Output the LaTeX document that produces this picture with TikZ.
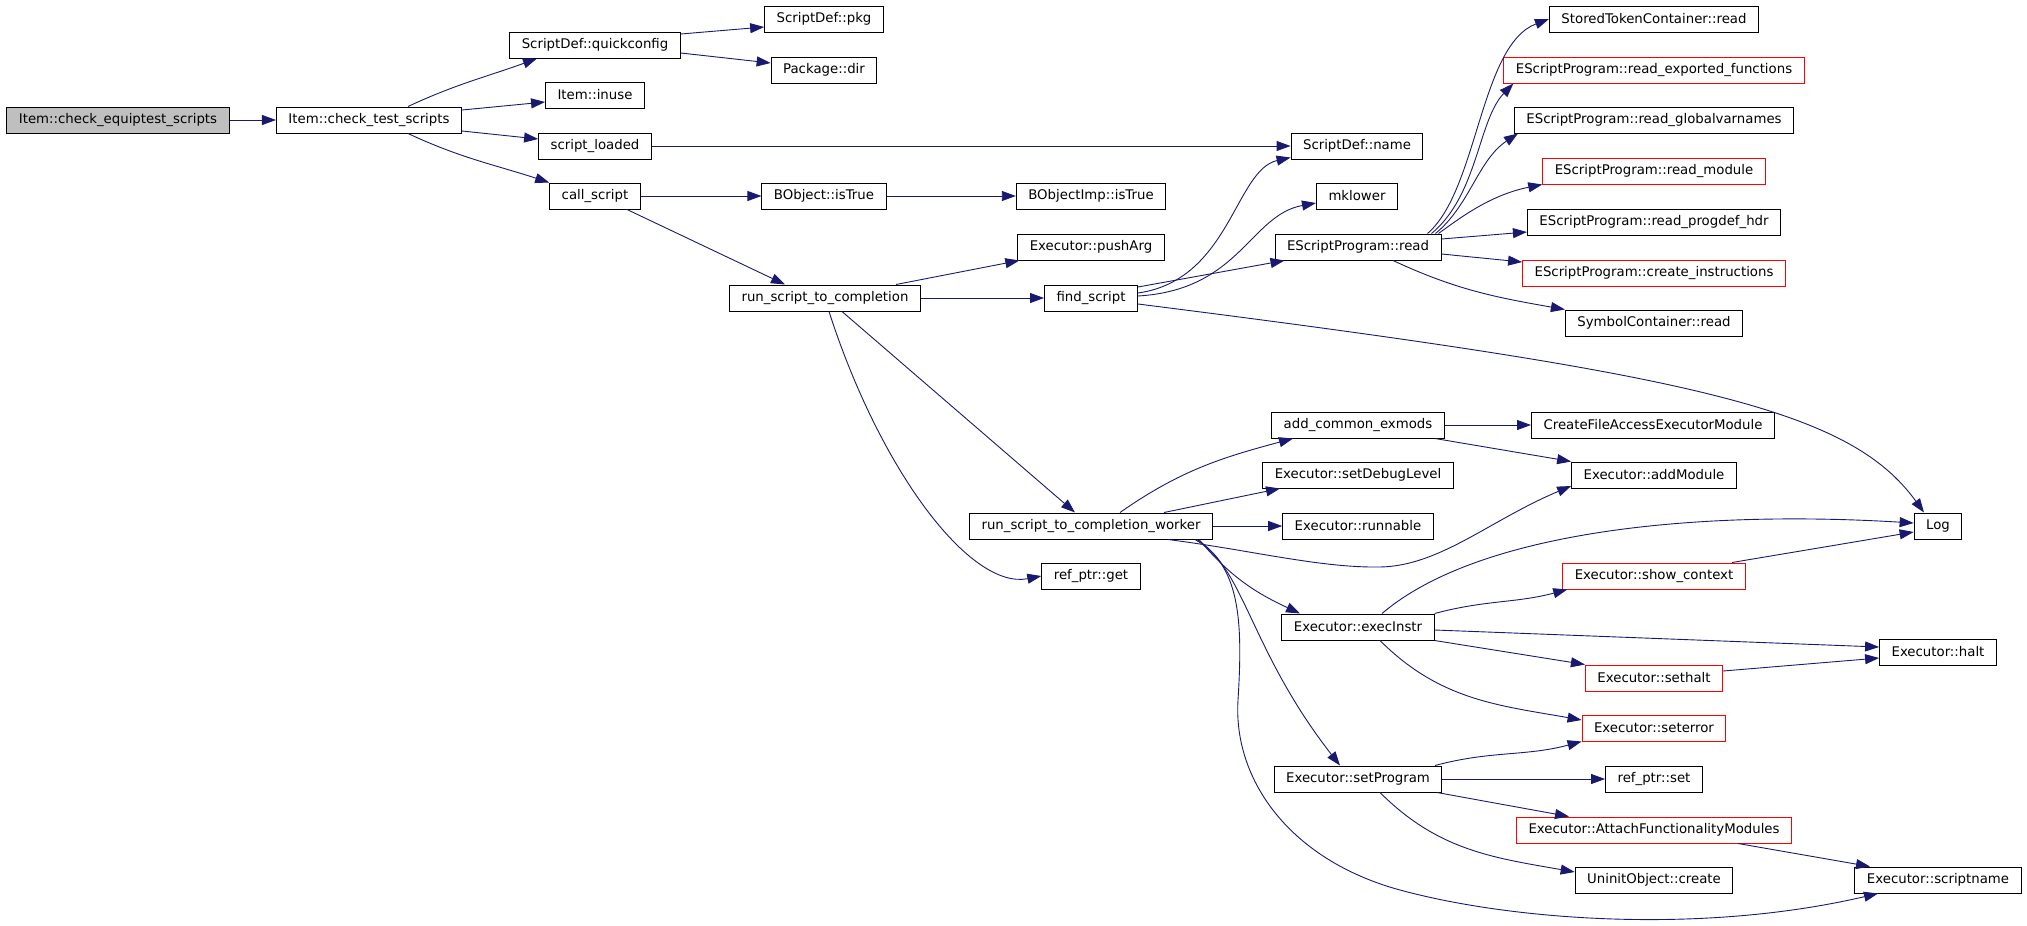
\documentclass[tikz,border=0pt]{standalone}
\usepackage{fontspec}
\setmainfont{DejaVu Sans}
\usepackage{xcolor}
\usepackage{tikz}
\usetikzlibrary{arrows.meta}

\definecolor{edgeblue}{HTML}{191970}

\begin{document}
\begin{tikzpicture}[x=1pt,y=1pt,
    fn/.style={draw=black, line width=1pt, fill=white, text=black,
        minimum height=26pt, inner xsep=12pt, inner ysep=0pt,
        font=\fontsize{13.3}{16}\selectfont},
    fnroot/.style={fn, fill=black!25},
    fnred/.style={fn, draw=red},
    >={Triangle[length=14pt,width=10pt]}]
    \useasboundingbox (0,0) rectangle (2027,-926);

    \node[fnroot] (equip) at (118,-120) {Item::check\_equiptest\_scripts};
    \node[fn] (tests) at (369,-120) {Item::check\_test\_scripts};
    \node[fn] (qcfg) at (595,-45) {ScriptDef::quickconfig};
    \node[fn] (inuse) at (595,-95) {Item::inuse};
    \node[fn] (loaded) at (595,-146) {script\_loaded};
    \node[fn] (call) at (595,-196) {call\_script};
    \node[fn] (pkg) at (824,-19) {ScriptDef::pkg};
    \node[fn] (pdir) at (824,-70) {Package::dir};
    \node[fn] (bobj) at (824,-196) {BObject::isTrue};
    \node[fn] (rstc) at (825,-298) {run\_script\_to\_completion};
    \node[fn] (bimp) at (1091,-196) {BObjectImp::isTrue};
    \node[fn] (push) at (1091,-247) {Executor::pushArg};
    \node[fn] (find) at (1091,-298) {find\_script};
    \node[fn] (worker) at (1091,-526) {run\_script\_to\_completion\_worker};
    \node[fn] (rget) at (1091,-576) {ref\_ptr::get};
    \node[fn] (sname) at (1357,-146) {ScriptDef::name};
    \node[fn] (mlow) at (1357,-196) {mklower};
    \node[fn] (epread) at (1358,-247) {EScriptProgram::read};
    \node[fn] (acem) at (1358,-425) {add\_common\_exmods};
    \node[fn] (sdbg) at (1358,-475) {Executor::setDebugLevel};
    \node[fn] (runn) at (1358,-526) {Executor::runnable};
    \node[fn] (exec) at (1358,-627) {Executor::execInstr};
    \node[fn] (sprog) at (1358,-779) {Executor::setProgram};
    \node[fn] (stread) at (1654,-19) {StoredTokenContainer::read};
    \node[fnred] (rexp) at (1654,-70) {EScriptProgram::read\_exported\_functions};
    \node[fn] (rglob) at (1654,-120) {EScriptProgram::read\_globalvarnames};
    \node[fnred] (rmod) at (1654,-171) {EScriptProgram::read\_module};
    \node[fn] (rhdr) at (1654,-222) {EScriptProgram::read\_progdef\_hdr};
    \node[fnred] (cinst) at (1654,-273) {EScriptProgram::create\_instructions};
    \node[fn] (symread) at (1654,-323) {SymbolContainer::read};
    \node[fn] (cfae) at (1653,-425) {CreateFileAccessExecutorModule};
    \node[fn] (addm) at (1654,-475) {Executor::addModule};
    \node[fnred] (shctx) at (1654,-576) {Executor::show\_context};
    \node[fnred] (sethalt) at (1654,-678) {Executor::sethalt};
    \node[fnred] (seterr) at (1654,-728) {Executor::seterror};
    \node[fn] (rset) at (1654,-779) {ref\_ptr::set};
    \node[fnred] (attach) at (1654,-830) {Executor::AttachFunctionalityModules};
    \node[fn] (uninit) at (1654,-880) {UninitObject::create};
    \node[fn] (log) at (1938,-526) {Log};
    \node[fn] (halt) at (1938,-652) {Executor::halt};
    \node[fn] (scrname) at (1938,-880) {Executor::scriptname};

    \begin{scope}[edgeblue, line width=0.9pt]
    \draw[->] (equip) -- (tests);
    \draw[->] ([xshift=39pt]tests.north) to[out=25,in=200] ([xshift=-58pt]qcfg.south);
    \draw[->] ([yshift=10pt]tests.east) -- ([yshift=-7pt]inuse.west);
    \draw[->] ([yshift=-11pt]tests.east) -- ([yshift=7pt]loaded.west);
    \draw[->] ([xshift=39pt]tests.south) to[out=-25,in=162] (call.north west);

    \draw[->] ([yshift=11pt]qcfg.east) -- ([yshift=-8pt]pkg.west);
    \draw[->] ([yshift=-8pt]qcfg.east) -- ([yshift=7pt]pdir.west);
    \draw[->] (loaded) -- (sname);
    \draw[->] (call) -- (bobj);
    \draw[->] ([xshift=32pt]call.south) -- ([xshift=-40pt]rstc.north);
    \draw[->] (bobj) -- (bimp);

    \draw[->] ([xshift=71pt]rstc.north) -- ([xshift=2pt]push.south west);
    \draw[->] (rstc) -- (find);
    \draw[->] ([xshift=17pt]rstc.south) -- ([xshift=-16pt]worker.north);
    \draw[->] ([xshift=4pt]rstc.south) .. controls (880,-470) and (970,-590) .. (rget.west);

    \draw[->] ([yshift=5pt]find.east) .. controls (1230,-280) and (1235,-170) .. ([yshift=2pt]sname.south west);
    \draw[->] ([yshift=2pt]find.east) .. controls (1240,-290) and (1250,-215) .. ([yshift=-7pt]mlow.west);
    \draw[->] ([yshift=11pt]find.east) -- ([xshift=10pt]epread.south west);
    \draw[->] ([yshift=-6pt]find.east) .. controls (1700,-375) and (1850,-410) .. ([xshift=-14pt]log.north);

    \draw[->] ([xshift=-14pt]epread.north east) .. controls (1478,-190) and (1480,-45) .. (stread.west);
    \draw[->] ([xshift=-10pt]epread.north east) .. controls (1478,-195) and (1478,-120) .. ([xshift=10pt]rexp.south west);
    \draw[->] ([xshift=-6pt]epread.north east) .. controls (1470,-205) and (1478,-160) .. ([xshift=4pt]rglob.south west);
    \draw[->] ([xshift=-3pt]epread.north east) .. controls (1460,-218) and (1490,-195) .. (rmod.south west);
    \draw[->] ([yshift=8pt]epread.east) -- ([yshift=-10pt]rhdr.west);
    \draw[->] ([yshift=-7pt]epread.east) -- ([yshift=11pt]cinst.west);
    \draw[->] ([xshift=35pt]epread.south) to[out=-25,in=170] (symread.north west);

    \draw[->] ([xshift=29pt]worker.north) to[out=35,in=195] ([xshift=-65pt]acem.south);
    \draw[->] ([xshift=73pt]worker.north) -- ([xshift=-78pt]sdbg.south);
    \draw[->] (worker) -- (runn);
    \draw[->] ([xshift=77pt]worker.south) .. controls (1250,-550) and (1320,-568) .. (1380,-567)
        .. controls (1440,-566) and (1490,-520) .. ([yshift=-11pt]addm.west);
    \draw[->] ([xshift=108pt]worker.south) to[out=-50,in=155] ([xshift=-58pt]exec.north);
    \draw[->] ([xshift=106pt]worker.south) .. controls (1245,-570) and (1250,-650) .. ([xshift=-18pt]sprog.north);
    \draw[->] ([xshift=104pt]worker.south) .. controls (1240,-565) and (1243,-620) .. (1238,-700)
        .. controls (1233,-780) and (1290,-860) .. (1400,-890)
        .. controls (1510,-920) and (1700,-935) .. ([xshift=-60pt]scrname.south);

    \draw[->] (acem) -- (cfae);
    \draw[->] ([xshift=77pt]acem.south) -- (addm.north west);

    \draw[->] ([xshift=24pt]exec.north) .. controls (1480,-530) and (1700,-510) .. ([yshift=3pt]log.west);
    \draw[->] (exec.north east) to[out=15,in=195] ([xshift=5pt]shctx.south west);
    \draw[->] ([yshift=-3pt]exec.east) -- ([yshift=5pt]halt.west);
    \draw[->] (exec.south east) -- (sethalt.north west);
    \draw[->] ([xshift=22pt]exec.south) to[out=-45,in=170] ([yshift=8pt]seterr.west);
    \draw[->] ([xshift=78pt]shctx.north) -- ([yshift=-6pt]log.west);
    \draw[->] ([yshift=7pt]sethalt.east) -- ([yshift=-6pt]halt.west);

    \draw[->] ([xshift=77pt]sprog.north) to[out=15,in=195] (seterr.south west);
    \draw[->] (sprog) -- (rset);
    \draw[->] ([xshift=79pt]sprog.south) -- ([xshift=-85pt]attach.north);
    \draw[->] ([xshift=22pt]sprog.south) to[out=-45,in=170] ([yshift=8pt]uninit.west);
    \draw[->] ([xshift=84pt]attach.south) -- ([xshift=-68pt]scrname.north);
    \end{scope}
\end{tikzpicture}
\end{document}
